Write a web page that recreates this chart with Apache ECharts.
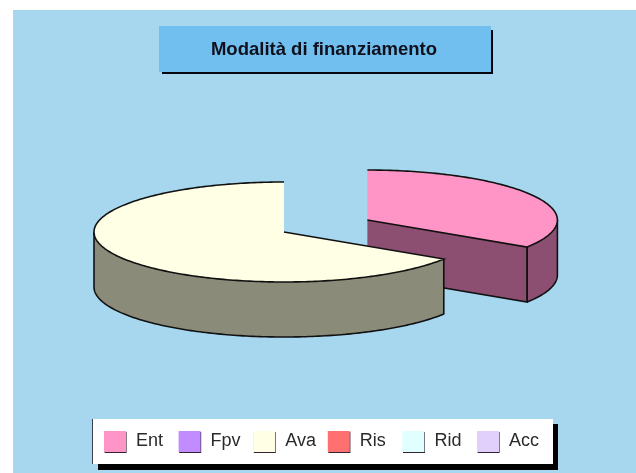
<!DOCTYPE html>
<html>
  <head>
    <meta charset="utf-8" />
    <title>Modalità di finanziamento</title>
    <script src="https://cdnjs.cloudflare.com/ajax/libs/echarts/6.0.0/echarts.min.js"></script>
  </head>
  <body>
    <style>
      html,
      body {
        width: 100%;
        height: 100%;
        margin: 0;
        padding: 0;
        background: #ffffff;
        overflow: hidden;
      }
      #main {
        width: 636px;
        height: 473px;
      }
    </style>
    <div id="main"></div>
    <script type="text/javascript">
      var titleText = 'Modalità di finanziamento';
      var categories = ['Ent', 'Fpv', 'Ava', 'Ris', 'Rid', 'Acc'];
      var shares = [34.1, 0, 65.9, 0, 0, 0];

      var topColors = ['#ff94c6', '#c08cff', '#ffffe6', '#ff7070', '#e0ffff', '#e0d0fb'];
      var wallColors = ['#8c4f72', '#6a4d8c', '#8b8b7a', '#8c3e3e', '#7b8c8c', '#7b7289'];
      var explodes = [0.5, 0, 0, 0, 0, 0];

      var FONT = '"Liberation Sans", Arial, sans-serif';
      var CX = 284, CY = 232, RX = 190, RY = 50, DEPTH = 55;
      var LINE = { stroke: '#111111', lineWidth: 1.6, fill: null };

      var myChart = echarts.init(document.getElementById('main'));
      var total = shares.reduce(function (a, b) { return a + b; }, 0);

      // start angle of a slice, clockwise from 12 o'clock
      function startAngle(idx) {
        var sum = 0;
        for (var i = 0; i < idx; i++) sum += shares[i];
        return 90 - sum / total * 360;
      }

      function renderSlice(params, api) {
        var idx = params.seriesIndex;
        var value = api.value(0);
        if (!value) return { type: 'group', children: [] };

        var s = startAngle(idx);
        var e = s - value / total * 360;
        var mid = (s + e) / 2 * Math.PI / 180;
        var ox = CX + explodes[idx] * RX * Math.cos(mid);
        var oy = CY - explodes[idx] * RY * Math.sin(mid);

        function rim(deg, drop) {
          var a = deg * Math.PI / 180;
          return [ox + RX * Math.cos(a), oy - RY * Math.sin(a) + (drop || 0)];
        }
        function arc(from, to, drop) {
          var pts = [], n = Math.ceil(Math.abs(from - to));
          for (var i = 0; i <= n; i++) pts.push(rim(from + (to - from) * i / n, drop));
          return pts;
        }
        function poly(points, fill) {
          return { type: 'polygon', shape: { points: points }, style: { fill: fill } };
        }
        function line(points) {
          return { type: 'polyline', shape: { points: points }, style: LINE };
        }

        var children = [];

        // flat cut faces, only when they turn towards the viewer
        function cutFace(deg) {
          var r = rim(deg), rd = rim(deg, DEPTH);
          children.push(poly([[ox, oy], r, rd, [ox, oy + DEPTH]], wallColors[idx]));
          children.push(line([[ox, oy + DEPTH], rd, r]));
        }
        if (Math.cos(s * Math.PI / 180) < -0.01) cutFace(s);
        if (Math.cos(e * Math.PI / 180) > 0.01) cutFace(e);

        // outer wall, front half only
        var hi = Math.min(s, 0), lo = Math.max(e, -180);
        if (hi > lo) {
          var upper = arc(hi, lo, 0), lower = arc(lo, hi, DEPTH);
          children.push(poly(upper.concat(lower), wallColors[idx]));
          children.push(line(lower.concat([upper[0]])));
          children.push(line([upper[upper.length - 1], lower[0]]));
        }

        // top face, the 12 o'clock edge has no visible outline
        var top = arc(s, e, 0);
        children.push(poly([[ox, oy]].concat(top), topColors[idx]));
        var vertical = Math.abs(Math.cos(s * Math.PI / 180)) < 0.01;
        children.push(line(vertical ? top.concat([[ox, oy]]) : [[ox, oy]].concat(top)));

        return { type: 'group', children: children };
      }

      var series = categories.map(function (name, i) {
        return {
          name: name,
          type: 'custom',
          coordinateSystem: 'none',
          renderItem: renderSlice,
          itemStyle: { color: topColors[i] },
          data: [[shares[i]]],
          silent: true,
          animation: false
        };
      });

      // one legend per entry, the original keeps them at a fixed pitch
      var legends = categories.map(function (name, i) {
        return {
          data: [name],
          left: 104 + i * 74.6,
          top: 431,
          padding: 0,
          itemWidth: 22,
          itemHeight: 21,
          selectedMode: false,
          icon: 'rect',
          itemStyle: { shadowColor: '#332233', shadowBlur: 0, shadowOffsetX: 0.6, shadowOffsetY: 1 },
          textStyle: {
            fontFamily: FONT,
            fontSize: 18,
            color: '#2a2a2a',
            padding: [8, 0, 0, 5]
          }
        };
      });

      var option = {
        animation: false,
        title: {
          text: titleText,
          left: 324,
          top: 40,
          textAlign: 'center',
          padding: 0,
          textStyle: { fontFamily: FONT, fontSize: 18.5, fontWeight: 'bold', color: '#10101c' }
        },
        legend: legends,
        graphic: [
          { type: 'rect', shape: { x: 13, y: 10, width: 623, height: 463 }, style: { fill: '#a6d7ef' } },
          { type: 'rect', shape: { x: 162, y: 30, width: 331, height: 44 }, style: { fill: '#050510' } },
          { type: 'rect', shape: { x: 159, y: 26, width: 332, height: 46 }, style: { fill: '#71bfee' } },
          { type: 'rect', shape: { x: 98, y: 424, width: 460, height: 46 }, style: { fill: '#000000' } },
          { type: 'rect', shape: { x: 92, y: 419, width: 461, height: 45 }, style: { fill: '#ffffff' } },
          { type: 'rect', shape: { x: 92, y: 419, width: 1, height: 45 }, style: { fill: '#3a4450' } }
        ],
        series: series
      };

      myChart.setOption(option);
    </script>
  </body>
</html>
